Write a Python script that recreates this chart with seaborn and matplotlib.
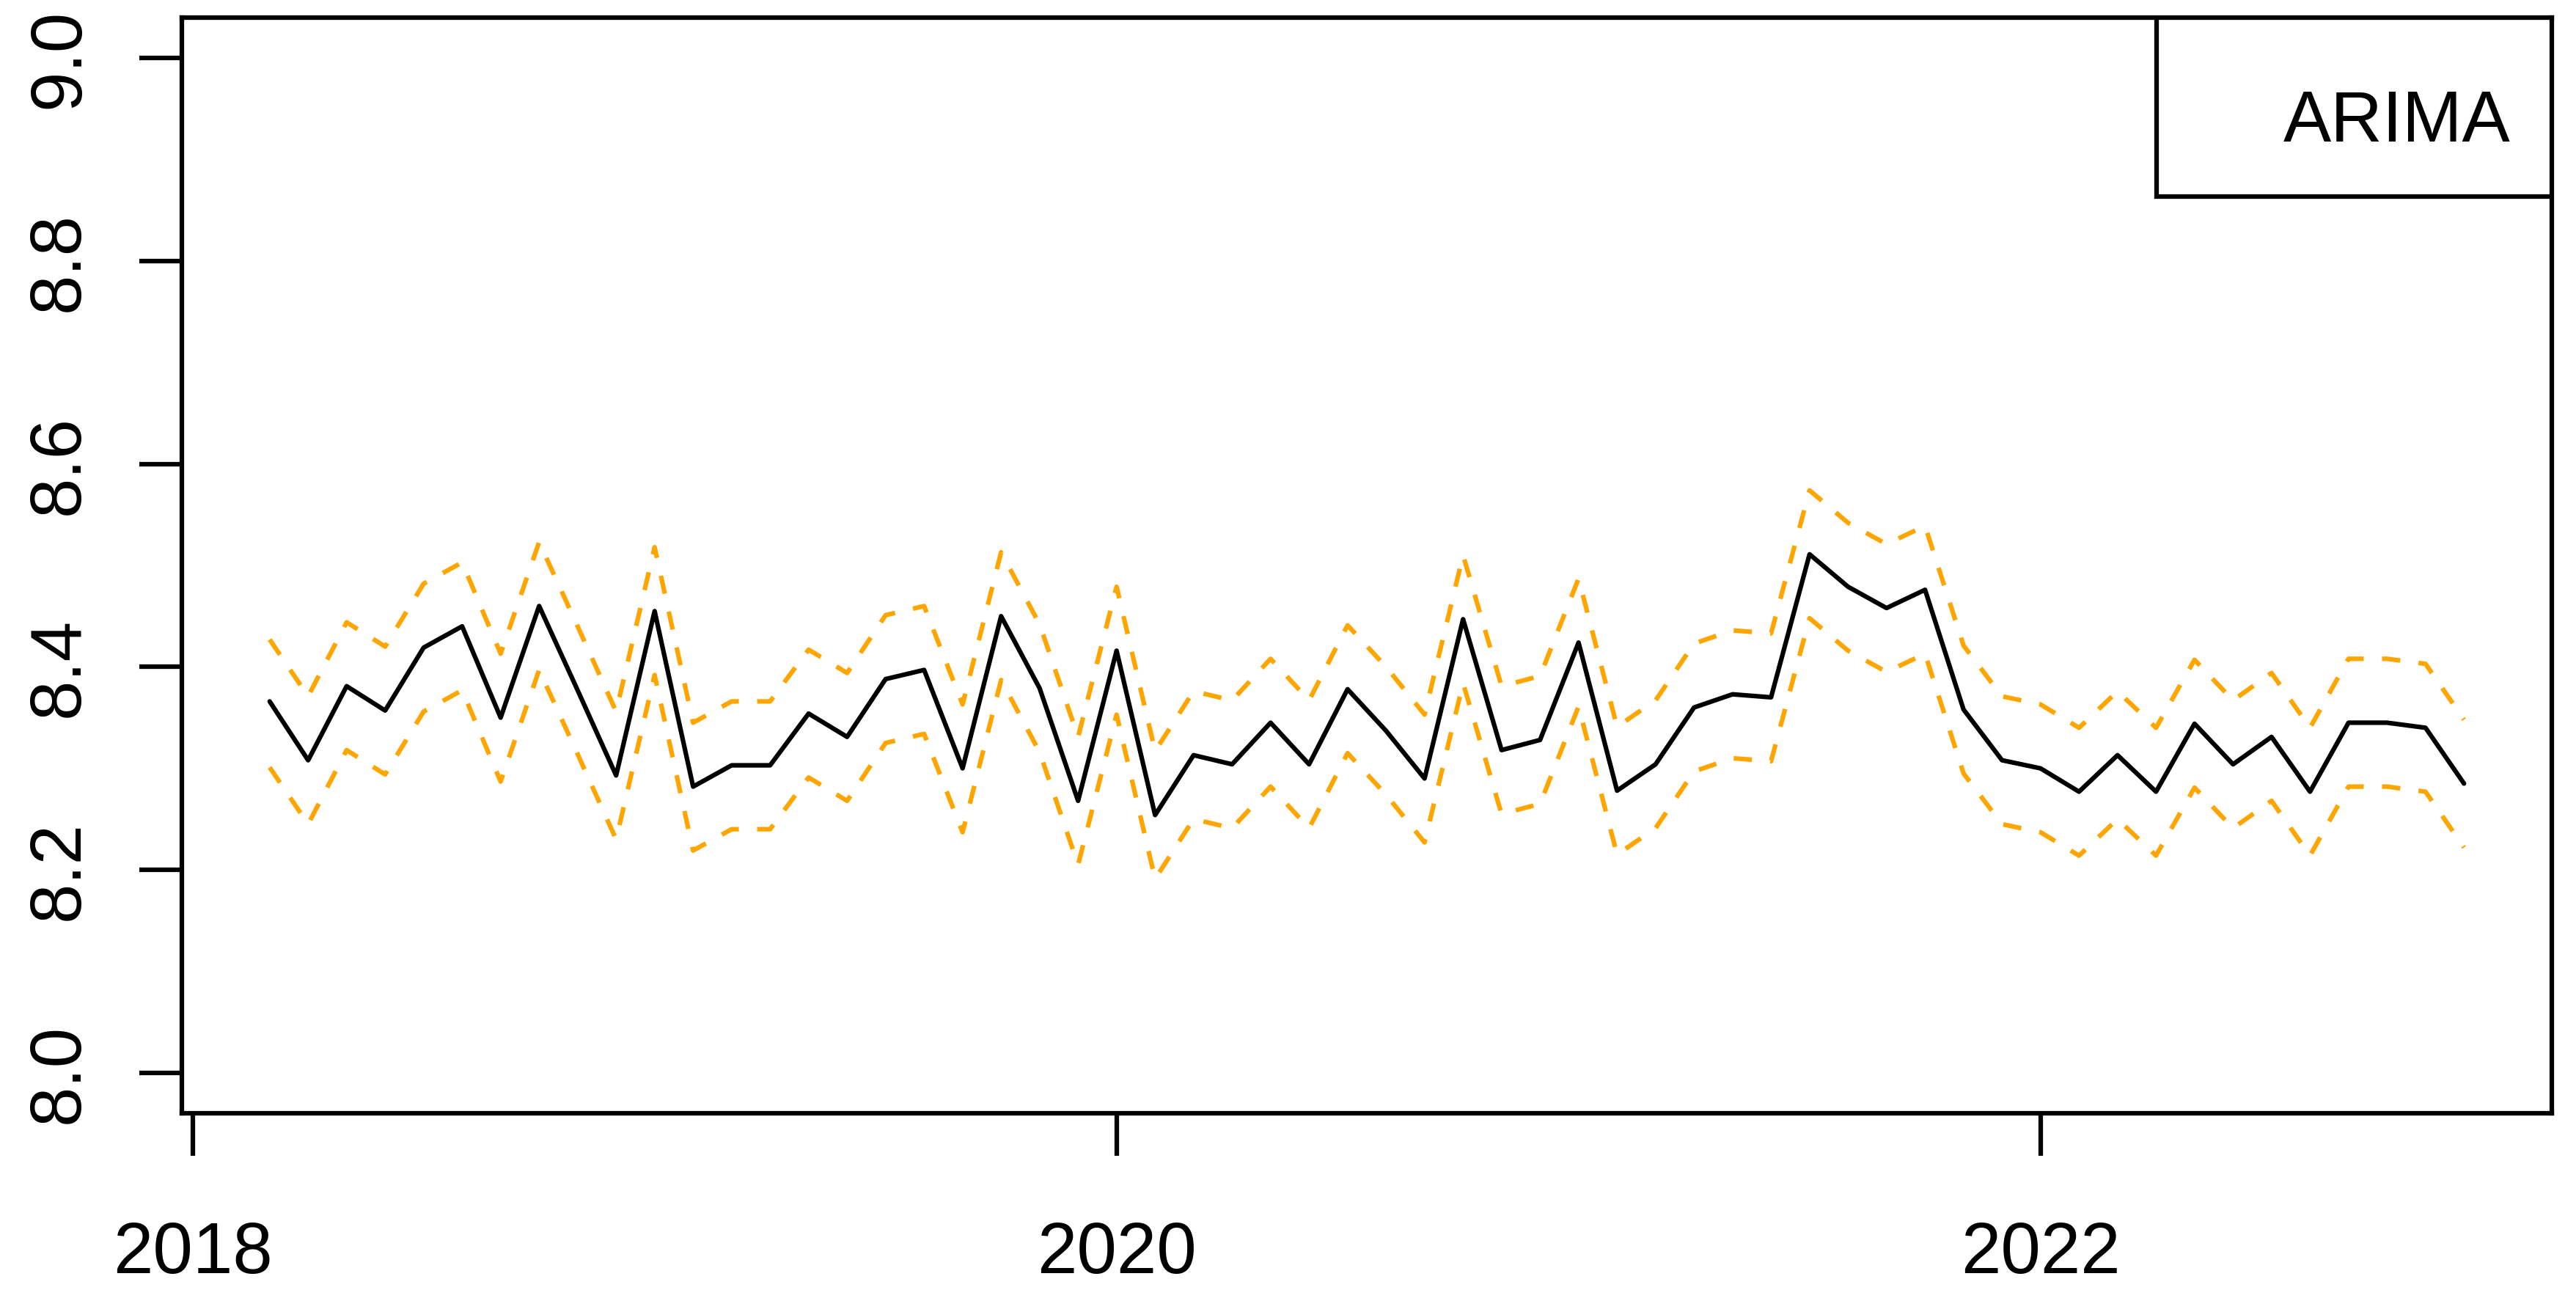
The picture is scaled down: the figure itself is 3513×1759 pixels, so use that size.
import matplotlib.pyplot as plt
import pandas as pd
import seaborn as sns
from matplotlib.patches import Rectangle


OUTPUT_PATH = "out.png"

# monthly series, Mar 2018 .. Dec 2022
MONTHS = pd.date_range("2018-03-01", "2022-12-01", freq="MS")

FITTED = [
    8.366, 8.308, 8.381, 8.357, 8.419, 8.440, 8.350, 8.460, 8.377, 8.293,
    8.455, 8.282, 8.303, 8.303, 8.354, 8.331, 8.388, 8.397, 8.300, 8.450,
    8.379, 8.268, 8.416, 8.254, 8.313, 8.304, 8.345, 8.304, 8.378, 8.337,
    8.290, 8.447, 8.318, 8.328, 8.424, 8.278, 8.304, 8.360, 8.373, 8.370,
    8.511, 8.479, 8.458, 8.476, 8.358, 8.308, 8.300, 8.277, 8.313, 8.277,
    8.344, 8.304, 8.331, 8.277, 8.345, 8.345, 8.340, 8.285,
]

UPPER = [
    8.427, 8.371, 8.444, 8.420, 8.482, 8.503, 8.413, 8.523, 8.440, 8.356,
    8.518, 8.345, 8.366, 8.366, 8.417, 8.394, 8.451, 8.460, 8.363, 8.513,
    8.442, 8.331, 8.479, 8.317, 8.376, 8.367, 8.408, 8.367, 8.441, 8.400,
    8.353, 8.510, 8.381, 8.391, 8.487, 8.341, 8.367, 8.423, 8.436, 8.433,
    8.574, 8.542, 8.521, 8.539, 8.421, 8.371, 8.363, 8.340, 8.376, 8.340,
    8.407, 8.367, 8.394, 8.340, 8.408, 8.408, 8.403, 8.348,
]

LOWER = [
    8.301, 8.245, 8.318, 8.294, 8.356, 8.377, 8.287, 8.397, 8.314, 8.230,
    8.392, 8.219, 8.240, 8.240, 8.291, 8.268, 8.325, 8.334, 8.237, 8.387,
    8.316, 8.205, 8.353, 8.191, 8.250, 8.241, 8.282, 8.241, 8.315, 8.274,
    8.227, 8.384, 8.255, 8.265, 8.361, 8.215, 8.241, 8.297, 8.310, 8.307,
    8.448, 8.416, 8.395, 8.413, 8.295, 8.245, 8.237, 8.214, 8.250, 8.214,
    8.281, 8.241, 8.268, 8.214, 8.282, 8.282, 8.277, 8.222,
]

Y_TICKS = [8.0, 8.2, 8.4, 8.6, 8.8, 9.0]
Y_TICK_LABELS = ["8.0", "8.2", "8.4", "8.6", "8.8", "9.0"]
X_TICKS = [2018, 2020, 2022]
X_TICK_LABELS = ["2018", "2020", "2022"]
LEGEND_LABEL = "ARIMA"

FONT_SIZE = 23.5
LINE_WIDTH = 1.5


def set_chart_theme():
    sns.set_theme(style="white")
    plt.rcParams["font.family"] = ["Liberation Sans", "DejaVu Sans"]
    plt.rcParams["axes.edgecolor"] = "black"
    plt.rcParams["axes.linewidth"] = LINE_WIDTH
    plt.rcParams["text.color"] = "black"


def build_data():
    time = MONTHS.year + (MONTHS.month - 1) / 12
    return pd.DataFrame({"time": time, "fitted": FITTED, "upper": UPPER, "lower": LOWER})


def plot_chart(data):
    set_chart_theme()
    figure = plt.figure(figsize=(3513 / 300, 1760 / 300), dpi=300)
    axis = figure.add_axes([0.0706, 0.1369, 0.92, 0.8489])

    for column in ["upper", "lower"]:
        sns.lineplot(
            data=data, x="time", y=column, ax=axis,
            color="#FFA500", linewidth=LINE_WIDTH, linestyle=(0, (4, 4)),
        )
    sns.lineplot(data=data, x="time", y="fitted", ax=axis, color="black", linewidth=LINE_WIDTH)

    # R style 4% padding around the data range
    span = data["time"].max() - data["time"].min()
    axis.set_xlim(data["time"].min() - 0.04 * span, data["time"].max() + 0.04 * span)
    axis.set_ylim(8.0 - 0.04, 9.0 + 0.04)

    axis.set_xticks(X_TICKS)
    axis.set_xticklabels(X_TICK_LABELS, fontsize=FONT_SIZE)
    axis.set_yticks(Y_TICKS)
    axis.set_yticklabels(Y_TICK_LABELS, fontsize=FONT_SIZE, rotation=90, va="center")
    axis.tick_params(
        axis="both", direction="out", length=14, width=LINE_WIDTH,
        color="black", labelcolor="black",
    )
    axis.tick_params(axis="x", pad=21, bottom=True)
    axis.tick_params(axis="y", pad=15, left=True)
    axis.set_xlabel("")
    axis.set_ylabel("")
    for spine in axis.spines.values():
        spine.set_visible(True)
        spine.set_color("black")
        spine.set_linewidth(LINE_WIDTH)

    # legend box in the top right corner, R style
    axis.add_patch(
        Rectangle(
            (0.8332, 0.8367), 0.1668, 0.1633, transform=axis.transAxes,
            facecolor="white", edgecolor="black", linewidth=LINE_WIDTH, zorder=5,
        )
    )
    axis.text(
        0.9824, 0.8878, LEGEND_LABEL, transform=axis.transAxes,
        ha="right", va="baseline", fontsize=FONT_SIZE, color="black", zorder=6,
    )

    figure.savefig(OUTPUT_PATH, dpi=300, facecolor="white")
    plt.close(figure)


def main():
    data = build_data()
    plot_chart(data)


if __name__ == "__main__":
    main()
